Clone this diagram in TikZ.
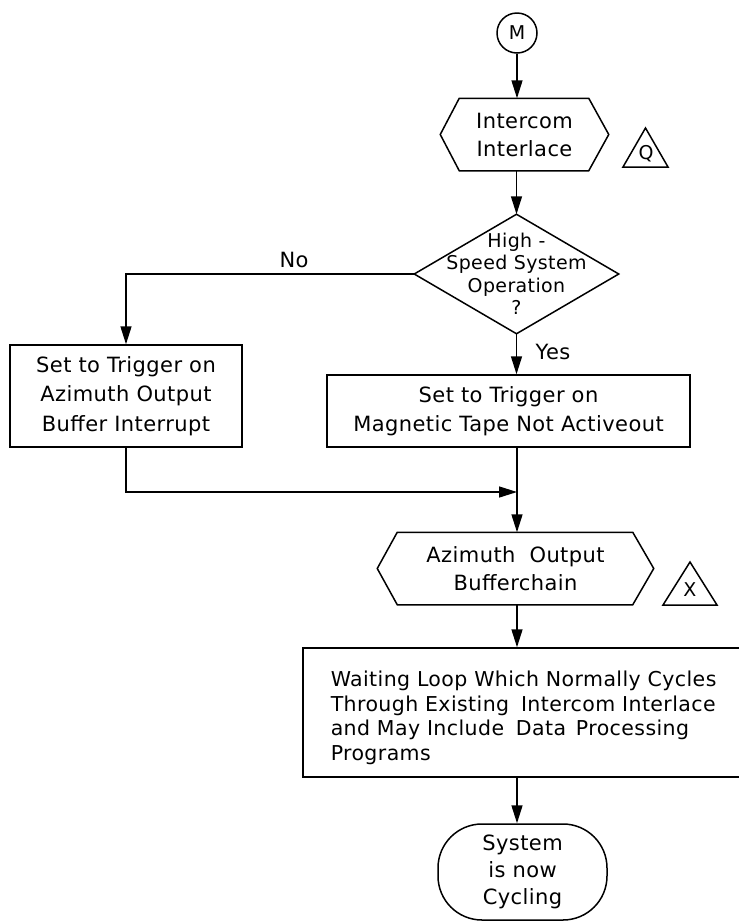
\documentclass[tikz,border=0pt]{standalone}
\usepackage{fontspec}
\setmainfont{DejaVu Sans}[LetterSpace=2]
\usetikzlibrary{arrows.meta}
\begin{document}
\begin{tikzpicture}[x=1pt,y=-1pt,
  line width=1.5pt,
  flow/.style={-{Triangle[length=18pt,width=11pt]}},
  txt/.style={font=\fontsize{21}{28}\selectfont, align=center, inner sep=0pt},
  small/.style={font=\fontsize{19}{22.5}\selectfont, align=center, inner sep=0pt},
  box/.style={txt, draw, rectangle},
  hexa/.style={txt, minimum height=71pt},
]
\useasboundingbox (0,0) rectangle (739,922);
\clip (0,0) rectangle (739,922);

% entry connector
\node[circle, draw, minimum size=40pt, inner sep=0pt, font=\fontsize{19}{19}\selectfont] (m) at (517,33) {M};

% first preparation block
\node[hexa, minimum width=167pt] (h1) at (524.5,134.5) {Intercom\\Interlace};
\draw (h1.west) -- ([xshift=19pt]h1.north west) -- ([xshift=-20pt]h1.north east)
  -- (h1.east) -- ([xshift=-20pt]h1.south east) -- ([xshift=19pt]h1.south west) -- cycle;
\draw (623,167) -- (645.5,128) -- (668,167) -- cycle;
\node[small] (q) at (646,154) {Q};

% decision
\node[small, minimum width=203pt, minimum height=118pt] (d) at (516.5,274)
  {High -\\Speed System\\Operation\\?};
\draw (d.north) -- (d.east) -- (d.south) -- (d.west) -- cycle;

% the two settings
\node[box, font=\fontsize{21}{29.5}\selectfont, minimum width=232pt, minimum height=102pt] (lb) at (126,396)
  {Set to Trigger on\\Azimuth Output\\Buffer Interrupt};
\node[box, font=\fontsize{21}{29}\selectfont, minimum width=363pt, minimum height=72pt] (mb) at (508.5,411)
  {Set to Trigger on\\Magnetic Tape Not Activeout};

% second preparation block
\node[hexa, minimum width=275pt] (h2) at (515.5,568.5) {Azimuth\hspace{7pt} Output\\Bufferchain};
\draw (h2.west) -- ([xshift=20pt]h2.north west) -- ([xshift=-21pt]h2.north east)
  -- (h2.east) -- ([xshift=-21pt]h2.south east) -- ([xshift=20pt]h2.south west) -- cycle;
\draw (663,605) -- (690,562) -- (717,605) -- cycle;
\node[small] (xl) at (690,590) {X};

% waiting loop
\node[box, anchor=west, align=left, text width=405pt, inner xsep=28pt, minimum height=129pt,
  font=\fontsize{20.5}{24.5}\selectfont] (wb) at (302,712.5)
  {\rule{0pt}{26pt}Waiting Loop Which Normally Cycles\\Through Existing\hspace{5pt} Intercom Interlace\\and May Include\hspace{5pt} Data\hspace{3pt} Processing\\Programs};

% terminal
\node[txt, draw, rounded corners=44pt, minimum width=169pt, minimum height=96pt,
  font=\fontsize{21}{27}\selectfont] (t) at (522.5,872) {System\\is now\\Cycling};

% connectors
\coordinate (j) at (517,492);
\draw[flow] (m) -- (m.south |- h1.north);
\draw[flow] (d.north |- h1.south) -- (d.north);
\draw[flow] (d.west) -| (lb.north);
\node[txt] (no) at (294,260) {No};
\draw[flow] (d.south) -- (d.south |- mb.north);
\node[txt] (yes) at (553,352) {Yes};
\draw[flow] (lb.south) |- (j);
\draw[flow] (j |- mb.south) -- (j |- h2.north);
\draw[flow] (j |- h2.south) -- (j |- wb.north);
\draw[flow] (j |- wb.south) -- (j |- t.north);
\end{tikzpicture}
\end{document}
